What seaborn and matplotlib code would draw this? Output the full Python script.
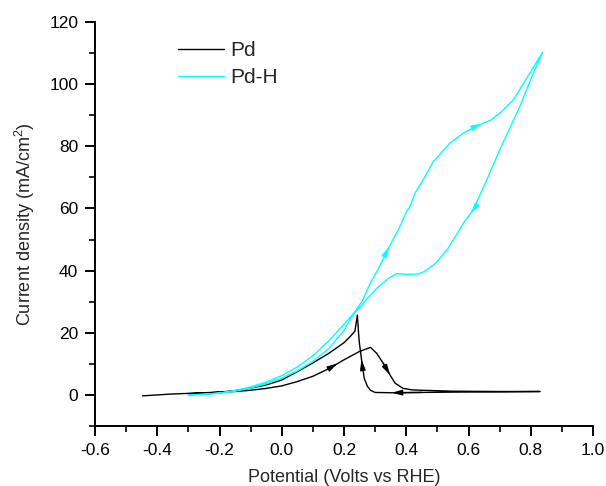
import numpy as np
import pandas as pd
import matplotlib
matplotlib.use("Agg")
import matplotlib.pyplot as plt
import seaborn as sns

# ---- data ----
pd_x = [-0.447, -0.40, -0.35, -0.30, -0.25, -0.20, -0.15, -0.10, -0.05, 0.00,
        0.05, 0.10, 0.15, 0.20, 0.25, 0.285, 0.305, 0.326, 0.348, 0.364,
        0.39, 0.42, 0.45, 0.55, 0.70, 0.83,
        0.70, 0.55, 0.45, 0.353, 0.30, 0.285, 0.275, 0.265, 0.258, 0.253,
        0.249, 0.246, 0.243, 0.235, 0.22, 0.20, 0.15, 0.10, 0.05, 0.00,
        -0.05, -0.10, -0.15, -0.20, -0.25, -0.30]
pd_y = [-0.3, 0.0, 0.3, 0.5, 0.7, 0.9, 1.1, 1.5, 2.1, 2.9,
        4.3, 6.0, 8.4, 11.3, 14.0, 15.3, 13.4, 10.2, 6.4, 3.8,
        2.1, 1.6, 1.5, 1.2, 1.1, 1.1,
        1.0, 0.9, 0.8, 0.7, 0.8, 1.5, 2.8, 5.4, 10.0, 14.0,
        17.0, 21.0, 25.7, 20.5, 18.8, 16.8, 13.3, 10.3, 7.5, 4.8,
        3.2, 2.2, 1.4, 0.9, 0.6, 0.4]

pdh_x = [-0.30, -0.25, -0.20, -0.15, -0.10, -0.05, 0.00, 0.05, 0.10, 0.15,
         0.20, 0.23, 0.26, 0.284, 0.31, 0.342, 0.36, 0.38, 0.40, 0.412,
         0.428, 0.46, 0.487, 0.54, 0.583, 0.626, 0.669, 0.70, 0.744, 0.787,
         0.838,
         0.80, 0.765, 0.70, 0.66, 0.615, 0.583, 0.535, 0.50, 0.487, 0.46,
         0.439, 0.40, 0.37, 0.342, 0.305, 0.26, 0.23, 0.20, 0.15, 0.10,
         0.05, 0.00, -0.05, -0.10, -0.15, -0.20, -0.25, -0.30]
pdh_y = [0.0, 0.2, 0.6, 1.2, 2.2, 3.6, 5.4, 7.7, 10.8, 14.8,
         20.8, 26.0, 30.5, 35.9, 40.5, 47.0, 50.5, 54.2, 58.8, 60.6,
         64.9, 70.2, 75.1, 81.0, 84.2, 86.5, 88.3, 90.6, 94.9, 101.9,
         110.3,
         101.5, 92.8, 78.8, 69.5, 59.5, 55.2, 47.2, 43.0, 41.8, 39.8,
         38.9, 38.8, 39.0, 37.5, 34.3, 29.3, 26.0, 22.8, 17.3, 12.6,
         9.0, 6.2, 4.1, 2.6, 1.4, 0.6, 0.2, 0.0]

series_names = ["Pd", "Pd-H"]
# arrows: (segment start index, fraction along segment for the tip)
pd_arrows = [(12, 0.6), (17, 1.0), (28, 1.0), (34, 0.35)]
pdh_arrows = [(15, 0.2), (25, 0.4), (35, 0.25)]

x_ticks = [-0.6, -0.4, -0.2, 0.0, 0.2, 0.4, 0.6, 0.8, 1.0]
y_ticks = [0, 20, 40, 60, 80, 100, 120]

# ---- styling ----
sns.set_theme(style="ticks")
plt.rcParams["font.family"] = ["Liberation Sans", "DejaVu Sans"]
plt.rcParams["mathtext.fontset"] = "custom"
plt.rcParams["mathtext.rm"] = "Liberation Sans"
plt.rcParams["mathtext.default"] = "regular"

colors = {"Pd": "#000000", "Pd-H": "#00ffff"}

df = pd.concat([
    pd.DataFrame({"x": pd_x, "y": pd_y, "series": "Pd", "order": range(len(pd_x))}),
    pd.DataFrame({"x": pdh_x, "y": pdh_y, "series": "Pd-H", "order": range(len(pdh_x))}),
], ignore_index=True)

fig = plt.figure(figsize=(6.06, 4.86), dpi=100)
ax = fig.add_axes([95 / 606, 1 - 426 / 486, 498 / 606, 404 / 486])

sns.lineplot(data=df, x="x", y="y", hue="series", hue_order=series_names,
             palette=colors, sort=False, estimator=None, units="series",
             linewidth=1.0, ax=ax, legend=True)

def add_arrows(xs, ys, arrows, color):
    for i, f in arrows:
        x0, y0 = xs[i], ys[i]
        x1, y1 = xs[i + 1], ys[i + 1]
        tip = (x0 + f * (x1 - x0), y0 + f * (y1 - y0))
        ax.annotate("", xy=tip, xytext=(x0, y0),
                    arrowprops=dict(arrowstyle="-|>,head_length=0.6,head_width=0.16",
                                    color=color, lw=1.0, shrinkA=0, shrinkB=0,
                                    mutation_scale=10))

add_arrows(pd_x, pd_y, pd_arrows, colors["Pd"])
add_arrows(pdh_x, pdh_y, pdh_arrows, colors["Pd-H"])

ax.set_xlim(-0.6, 1.0)
ax.set_ylim(-10, 120)
ax.set_xticks(x_ticks)
ax.set_xticklabels([f"{v:.1f}" for v in x_ticks])
ax.set_yticks(y_ticks)
ax.set_xticks(np.arange(-0.5, 1.0, 0.2), minor=True)
ax.set_yticks(np.arange(-10, 120, 20), minor=True)

ax.tick_params(which="major", direction="out", length=7, width=1.4,
               labelsize=12.5, pad=5, colors="black")
ax.tick_params(which="minor", direction="out", length=4, width=1.4)
for s in ["left", "bottom"]:
    ax.spines[s].set_linewidth(1.4)
    ax.spines[s].set_color("black")
sns.despine(ax=ax)

ax.set_xlabel("Potential (Volts vs RHE)", fontsize=13, labelpad=8)
ax.set_ylabel("Current density (mA/cm$^{2}$)", fontsize=13, labelpad=9)

leg = ax.legend(loc="upper left", bbox_to_anchor=(0.167, 0.953), frameon=False,
                fontsize=15, handlelength=2.2, handletextpad=0.3,
                labelspacing=0.4, borderpad=0, borderaxespad=0)
for line in leg.get_lines():
    line.set_linewidth(1.0)

fig.savefig("out.png", dpi=100)
